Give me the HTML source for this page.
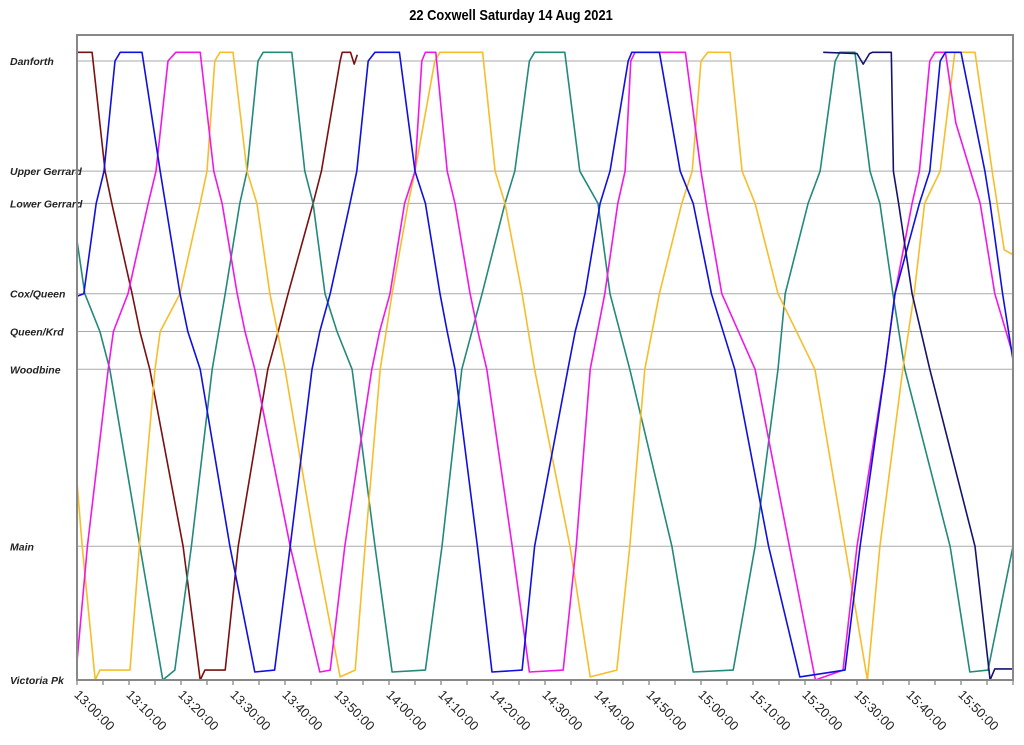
<!DOCTYPE html>
<html><head><meta charset="utf-8"><style>
body{margin:0;background:#fff;}
svg{display:block;font-family:"Liberation Sans",sans-serif;}
</style></head><body>
<svg id="chart" width="1024" height="745">
<text x="511" y="20" text-anchor="middle" font-size="15" font-weight="bold" transform="translate(511,0) scale(0.86,1) translate(-511,0)">22 Coxwell Saturday 14 Aug 2021</text>
<g id="grid"></g>
<g id="ylabels"></g>
<g id="xaxis"></g>
<g id="series"></g>
<rect x="77" y="35" width="936" height="645" fill="none" stroke="#888" stroke-width="2"/>
</svg>
<script>
const stopNames=["Danforth","Upper Gerrard","Lower Gerrard","Cox/Queen","Queen/Krd","Woodbine","Main","Victoria Pk"];
const stopValues=[100,82.2,77,62.4,56.3,50.2,21.6,0];
const tickLabels=["13:00:00","13:10:00","13:20:00","13:30:00","13:40:00","13:50:00","14:00:00","14:10:00","14:20:00","14:30:00","14:40:00","14:50:00","15:00:00","15:10:00","15:20:00","15:30:00","15:40:00","15:50:00"];
const maroonT=[0,2.9,5.4,6.7,10.6,12.1,14,20.4,23.7,24.6,28.5,31,36.7,38.7,40.6,45.4,47,50.6,51,52.6,53.3,53.9];
const maroonV=[101.4,101.4,82.2,77,62.4,56.3,50.2,21.6,0,1.6,1.6,21.6,50.2,56.3,62.4,77,82.2,100,101.4,101.4,99.5,101];
const blueT=[0,1.3,3.7,5.2,7.3,8.3,12.5,16,17,19.8,21.3,23.7,29.4,34.2,38,41,45.2,46.7,48.7,52.5,53.8,56,57.3,62,65,67,69.8,71.2,72.7,77,79.8,85.6,88,94.4,95.8,97.7,100.6,102.5,106,106.7,112,116,118.5,122,126.5,133,139,147.7,150.6,155.4,157.3,162,164,166,167,170,174.6,175.6,178,180];
const blueV=[62,62.4,77,82.2,100,101.4,101.4,82.2,77,62.4,56.3,50.2,21.6,1.3,1.6,21.6,50.2,56.3,62.4,77,82.2,100,101.4,101.4,82.2,77,62.4,56.3,50.2,21.6,1.3,1.6,21.6,50.2,56.3,62.4,77,82.2,100,101.4,101.4,82.2,77,62.4,50.2,21.6,0.5,1.6,21.6,50.2,62.4,77,82.2,100,101.4,101.4,82.2,77,62.4,51.7];
const navyT=[143.5,150,151.2,152.4,153,156.6,157,158,160.6,164,172.7,175.6,176.5,180];
const navyV=[101.4,101.2,99.5,101.2,101.4,101.4,82.2,77,62.4,50.2,21.6,0,1.8,1.8];
const magentaT=[0,2,6,7,9.8,13.7,15.2,17.5,19,23.7,26.3,27.9,30.8,32.3,34.2,41,46.7,48.7,51.5,56.7,58.2,60.2,63,65,66.3,67,69,71.2,72.7,75.6,77.1,78.8,83.7,87,93.5,96,98.7,101.5,104,105.4,106.5,107.3,117,120,121,124,130.4,137,142,147.3,150,155.4,157.3,160.6,162,164,165,167,169,173.7,176.5,180];
const magentaV=[3,21.6,50.2,56.3,62.4,77,82.2,100,101.4,101.4,82.2,77,62.4,56.3,50.2,21.6,1.3,1.6,21.6,50.2,56.3,62.4,77,82.2,100,101.4,101.4,82.2,77,62.4,56.3,50.2,21.6,1.3,1.6,21.6,50.2,62.4,77,82.2,100,101.4,101.4,82.2,77,62.4,50.2,21.6,0,1.6,21.6,50.2,62.4,77,82.2,100,101.4,101.4,90,77,62.4,52.5];
const goldT=[0,1,3.5,4.4,10.2,12,15,16,19.8,23.7,25,26.5,27.5,30,32.7,34.6,37.1,40,45.8,50.6,53.5,55.4,58.3,60.6,63.7,65,68.8,69.8,78,80.4,82.3,85.6,88,94.8,98.7,103.8,106.3,109.2,112,116.3,118.3,120,121.3,125.6,127.9,130.4,134.8,141.9,147.7,152,154.4,158.8,161,163,166,168.8,172.7,176,178.3,180];
const goldV=[32,21.6,0,1.6,1.6,21.6,50.2,56.3,62.4,77,82.2,100,101.4,101.4,82.2,77,62.4,50.2,21.6,0.5,1.6,21.6,50.2,62.4,77,82.2,100,101.4,101.4,82.2,77,62.4,50.2,21.6,0.5,1.6,21.6,50.2,62.4,77,82.2,100,101.4,101.4,82.2,77,62.4,50.2,21.6,0,21.6,50.2,62.4,77,82.2,101.4,101.4,82.2,69.5,68.7];
const tealT=[0,1.5,4.4,6.3,12.1,16.5,18.8,22,26,28.5,31.3,32.7,34.8,35.8,41.3,43.8,45.4,47.7,50,52.9,57.3,60.6,67,70.2,74,77.9,82.3,84.2,87,88,93.8,96.7,100.2,102.5,106.3,114.4,118.5,126.2,130.4,134.8,136.2,140.6,142.9,145.8,146.7,149.6,152.5,154.4,156.9,159.2,167.9,171.7,175.2,180];
const tealV=[71,62.4,56.3,50.2,21.6,0,1.6,21.6,50.2,62.4,77,82.2,100,101.4,101.4,82.2,77,62.4,56.3,50.2,21.6,1.3,1.6,21.6,50.2,62.4,77,82.2,100,101.4,101.4,82.2,77,62.4,50.2,21.6,1.3,1.6,21.6,50.2,62.4,77,82.2,100,101.4,101.4,82.2,77,62.4,50.2,21.6,1.3,1.6,21.6];

const X0=77,PXMIN=5.2,Y0=680,PXV=6.19;
function xs(t){return X0+t*PXMIN;}
function ys(v){return Y0-v*PXV;}
const NS="http://www.w3.org/2000/svg";
const grid=document.getElementById('grid'),yl=document.getElementById('ylabels'),xa=document.getElementById('xaxis'),sg=document.getElementById('series');
stopNames.forEach((n,i)=>{
  const y=ys(stopValues[i]);
  if(i<stopNames.length-1){
    const l=document.createElementNS(NS,'line');
    
    
    l.setAttribute('x1',X0);l.setAttribute('x2',1013);l.setAttribute('y1',y);l.setAttribute('y2',y);
    l.setAttribute('stroke','#aaa');l.setAttribute('stroke-width','1');
    grid.appendChild(l);
  }
  const t=document.createElementNS(NS,'text');
  
  
  t.setAttribute('x',10);t.setAttribute('y',y+4);
  t.setAttribute('font-size','10.5');t.setAttribute('font-weight','bold');t.setAttribute('font-style','italic');t.setAttribute('fill','#222');
  t.textContent=n;yl.appendChild(t);
});
for(let m=0;m<=180;m+=5){
  const x=xs(m);
  const l=document.createElementNS(NS,'line');
  
  
  l.setAttribute('x1',x);l.setAttribute('x2',x);l.setAttribute('y1',680);l.setAttribute('y2',685);
  l.setAttribute('stroke','#666');xa.appendChild(l);
}
tickLabels.forEach((s,i)=>{
  const x=xs(i*10);
  const t=document.createElementNS(NS,'text');
  
  
  t.setAttribute('x',x);t.setAttribute('y',697);
  t.setAttribute('font-size','13');t.setAttribute('fill','#222');
  t.setAttribute('transform','rotate(45 '+x+' 692)');
  t.textContent=s;xa.appendChild(t);
});
const seriesList=[["maroon",maroonT,maroonV,"#7b1010"],["teal",tealT,tealV,"#23897a"],["gold",goldT,goldV,"#f7bd2a"],["magenta",magentaT,magentaV,"#f018e8"],["blue",blueT,blueV,"#1010e0"],["navy",navyT,navyV,"#14146e"]];
seriesList.forEach(s=>{
  const p=document.createElementNS(NS,'polyline');
  
  
  p.setAttribute('points',s[1].map((t,i)=>xs(t).toFixed(1)+','+ys(s[2][i]).toFixed(1)).join(' '));
  p.setAttribute('fill','none');p.setAttribute('stroke',s[3]);p.setAttribute('stroke-width','1.6');p.setAttribute('stroke-linejoin','round');
  sg.appendChild(p);
});
</script>
</body></html>
